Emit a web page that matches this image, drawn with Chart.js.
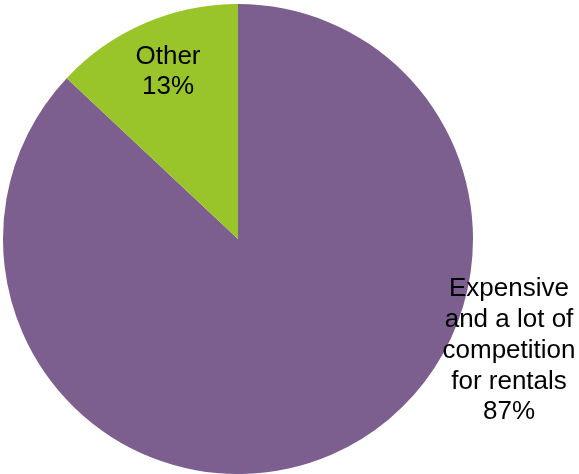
<!DOCTYPE html>
<html lang="en">
<head>
  <meta charset="UTF-8" />
  <title>Rental market reasons</title>
  <script src="https://cdn.jsdelivr.net/npm/chart.js"></script>
  <style>
    html, body { margin: 0; padding: 0; background: #ffffff; }
    #wrap { width: 579px; height: 474px; }
  </style>
</head>
<body>
<div id="wrap"><canvas id="pie" width="579" height="474"></canvas></div>
<script>
const categories = ["Expensive and a lot of competition for rentals", "Other"];
const shares = [87, 13];
const sliceColors = ["#7c5f8e", "#99c42a"];

// label text blocks, one line per entry; the percentage is added from shares
const labelLines = [
  ["Expensive", "and a lot of", "competition", "for rentals"],
  ["Other"]
];
// where each label block sits (centre x, middle of first line y, line step)
const labelSpots = [
  { x: 509, y: 289, step: 30.8 },
  { x: 168, y: 57, step: 30 }
];

const sliceLabels = {
  id: "sliceLabels",
  afterDraw(chart) {
    const ctx = chart.ctx;
    ctx.save();
    ctx.font = "26px 'Liberation Sans', Arial, sans-serif";
    ctx.fillStyle = "#000000";
    ctx.textAlign = "center";
    ctx.textBaseline = "middle";
    labelLines.forEach((lines, i) => {
      const all = lines.concat([shares[i] + "%"]);
      const spot = labelSpots[i];
      all.forEach((t, j) => {
        ctx.fillText(t, spot.x, spot.y + j * spot.step);
      });
    });
    ctx.restore();
  }
};

new Chart(document.getElementById("pie").getContext("2d"), {
  type: "pie",
  data: {
    labels: categories,
    datasets: [{
      data: shares,
      backgroundColor: sliceColors,
      borderWidth: 0
    }]
  },
  options: {
    responsive: false,
    animation: false,
    layout: { padding: { left: 3, top: 4, right: 106, bottom: 0 } },
    plugins: {
      legend: { display: false },
      tooltip: { enabled: false }
    }
  },
  plugins: [sliceLabels]
});
</script>
</body>
</html>
